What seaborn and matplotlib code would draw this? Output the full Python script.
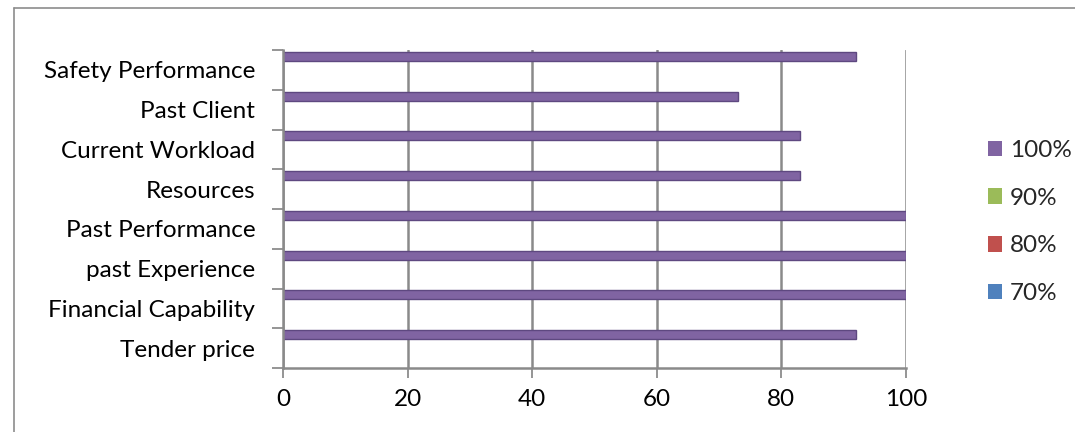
import numpy as np
import pandas as pd
import matplotlib
matplotlib.use("Agg")
import matplotlib.pyplot as plt
from matplotlib.lines import Line2D
import seaborn as sns

categories = ["Safety Performance", "Past Client", "Current Workload", "Resources",
              "Past Performance", "past Experience", "Financial Capability", "Tender price"]
series_names = ["100%", "90%", "80%", "70%"]
values_100 = [92, 73, 83, 83, 100, 100, 100, 92]
values_90 = [0, 0, 0, 0, 0, 0, 0, 0]
values_80 = [0, 0, 0, 0, 0, 0, 0, 0]
values_70 = [0, 0, 0, 0, 0, 0, 0, 0]
x_ticks = [0, 20, 40, 60, 80, 100]

colors = {"100%": "#8064A2", "90%": "#9BBB59", "80%": "#C0504D", "70%": "#4F81BD"}

rows = []
for name, vals in zip(series_names, [values_100, values_90, values_80, values_70]):
    for c, v in zip(categories, vals):
        rows.append({"category": c, "series": name, "value": v})
df = pd.DataFrame(rows)

sns.set_theme(style="white")
plt.rcParams["font.family"] = ["Lato", "DejaVu Sans"]

fig = plt.figure(figsize=(10.75, 4.32), dpi=100)
ax = fig.add_axes([283/1075, 1 - 368/432, (906 - 283)/1075, (368 - 50)/432])

sns.barplot(data=df, x="value", y="category", hue="series", hue_order=series_names,
            order=categories, orient="h", palette=colors, width=0.9, dodge=True,
            saturation=1, linewidth=1.0, edgecolor="#5E4880", ax=ax, legend=True)

# hide zero-width edges of empty series
for p in ax.patches:
    if p.get_width() == 0:
        p.set_linewidth(0)

ax.set_xlim(0, 100)
ax.set_xticks(x_ticks)
ax.set_xticklabels([str(t) for t in x_ticks])
ax.set_xlabel("")
ax.set_ylabel("")
ax.set_yticks(np.arange(-0.5, len(categories), 1), minor=True)
ax.tick_params(axis="y", which="major", length=0, pad=20, labelsize=17.5, colors="black")
ax.tick_params(axis="y", which="minor", length=8, width=1.3, color="#8c8c8c", left=True)
ax.tick_params(axis="x", which="major", length=7, width=1.3, color="#8c8c8c", pad=8,
               labelsize=17.5, bottom=True, labelcolor="black")
ax.grid(axis="x", color="#8a8a8a", linewidth=1.8)
ax.set_axisbelow(True)
for s in ["top", "right"]:
    ax.spines[s].set_visible(False)
for s in ["left", "bottom"]:
    ax.spines[s].set_color("#8a8a8a")
    ax.spines[s].set_linewidth(1.8)

handles, labels = ax.get_legend_handles_labels()
ax.legend(handles, labels, loc="center left", bbox_to_anchor=(978/1075, 1 - 222/432),
          bbox_transform=fig.transFigure, frameon=False, fontsize=17.5,
          handlelength=0.6, handleheight=0.6, handletextpad=0.3, labelspacing=1.1,
          borderaxespad=0)

fig.add_artist(Line2D([14/1075, 14/1075], [0, 1 - 8/432], transform=fig.transFigure,
                      color="#8c8c8c", linewidth=1.2))
fig.add_artist(Line2D([14/1075, 1], [1 - 8/432, 1 - 8/432], transform=fig.transFigure,
                      color="#8c8c8c", linewidth=1.2))

fig.savefig("out.png", dpi=100, facecolor="white")
